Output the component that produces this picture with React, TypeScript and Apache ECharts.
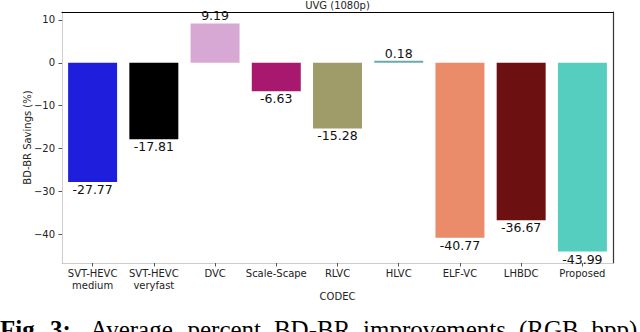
import React, { useEffect, useRef } from "react";
import * as echarts from "echarts";

const categories = [
  "SVT-HEVC\nmedium",
  "SVT-HEVC\nveryfast",
  "DVC",
  "Scale-Scape",
  "RLVC",
  "HLVC",
  "ELF-VC",
  "LHBDC",
  "Proposed",
];
const values = [-27.77, -17.81, 9.19, -6.63, -15.28, 0.18, -40.77, -36.67, -43.99];
const barColors = [
  "#1e1edc",
  "#000000",
  "#d8a8d4",
  "#a8186e",
  "#a09c6a",
  "#6aabaa",
  "#ea8b6a",
  "#6d1011",
  "#55cec0",
];
const yTicks = [-40, -30, -20, -10, 0, 10];
const yMin = -46.65;
const yMax = 11.85;
const chartTitle = "UVG (1080p)";
const yName = "BD-BR Savings (%)";
const xName = "CODEC";
const captionBold = ["Fig.", "3:"];
const captionWords = ["Average", "percent", "BD-BR", "improvements", "(RGB", "bpp)"];

const FONT = "DejaVu Sans";

export default function App() {
  const ref = useRef<HTMLDivElement>(null);
  useEffect(() => {
    if (!ref.current) return;
    const chart = echarts.init(ref.current, null, { renderer: "svg" });
    const fmt = (v: number) => (v < 0 ? "\u2212" + Math.abs(v) : String(v));
    const wordX = [90, 187.5, 273.9, 363, 519, 591.4];
    const boldX = [0, 50];
    const graphics: any[] = [
      {
        type: "text",
        x: 337.5,
        y: 5,
        style: {
          text: chartTitle,
          fontFamily: FONT,
          fontSize: 10,
          fill: "#222",
          align: "center",
          verticalAlign: "middle",
        },
      },
    ];
    captionBold.forEach((w, i) =>
      graphics.push({
        type: "text",
        x: boldX[i],
        y: 329.5,
        style: {
          text: w,
          fontFamily: "Liberation Serif",
          fontWeight: "bold",
          fontSize: 25,
          fill: "#000",
          align: "left",
          verticalAlign: "middle",
        },
      })
    );
    captionWords.forEach((w, i) =>
      graphics.push({
        type: "text",
        x: wordX[i],
        y: 329.5,
        style: {
          text: w,
          fontFamily: "Liberation Serif",
          fontSize: 25,
          fill: "#000",
          align: "left",
          verticalAlign: "middle",
        },
      })
    );
    chart.setOption({
      animation: false,
      textStyle: { fontFamily: FONT },
      grid: { left: 62, right: 27, top: 12, bottom: 69, containLabel: false },
      xAxis: [
        {
          type: "category",
          data: categories,
          position: "bottom",
          name: xName,
          nameLocation: "middle",
          nameGap: 28,
          nameMoveOverlap: false,
          nameTextStyle: { fontFamily: FONT, fontSize: 10, color: "#222" },
          axisLine: { show: true, onZero: false, lineStyle: { color: "#cccccc", width: 1 } },
          axisTick: { show: true, alignWithLabel: true, length: 3.5, lineStyle: { color: "#555" } },
          axisLabel: {
            fontFamily: FONT,
            fontSize: 10,
            color: "#222",
            margin: 4,
            lineHeight: 12.5,
            interval: 0,
          },
          splitLine: { show: false },
        },
        {
          type: "category",
          data: categories,
          position: "top",
          axisLine: { show: true, onZero: false, lineStyle: { color: "#000", width: 1.2 } },
          axisTick: { show: false },
          axisLabel: { show: false },
          splitLine: { show: false },
        },
      ],
      yAxis: [
        {
          type: "value",
          min: yMin,
          max: yMax,
          position: "left",
          name: yName,
          nameLocation: "middle",
          nameGap: 30,
          nameMoveOverlap: false,
          nameTextStyle: { fontFamily: FONT, fontSize: 10, color: "#222" },
          axisLine: { show: true, onZero: false, lineStyle: { color: "#cccccc", width: 1 } },
          axisTick: {
            show: true,
            length: 3.5,
            customValues: yTicks,
            lineStyle: { color: "#555" },
          },
          axisLabel: {
            customValues: yTicks,
            formatter: fmt,
            fontFamily: FONT,
            fontSize: 10,
            color: "#222",
            margin: 7,
          },
          splitLine: { show: false },
        },
        {
          type: "value",
          min: yMin,
          max: yMax,
          position: "right",
          axisLine: { show: true, onZero: false, lineStyle: { color: "#333", width: 1.2 } },
          axisTick: { show: false },
          axisLabel: { show: false },
          splitLine: { show: false },
        },
      ],
      series: [
        {
          type: "bar",
          xAxisIndex: 0,
          yAxisIndex: 0,
          barWidth: "80%",
          barMinHeight: 2,
          data: values.map((v, i) => ({
            value: v,
            itemStyle: { color: barColors[i] },
          })),
          label: {
            show: true,
            position: "outside",
            distance: 1,
            fontFamily: FONT,
            fontSize: 12.5,
            color: "#111",
            formatter: (p: any) => Number(p.value).toFixed(2),
          },
        },
      ],
      graphic: graphics,
    });
    return () => chart.dispose();
  }, []);
  return (
    <div
      ref={ref}
      style={{ position: "fixed", left: 0, top: 0, width: 640, height: 332, background: "#fff" }}
    />
  );
}
